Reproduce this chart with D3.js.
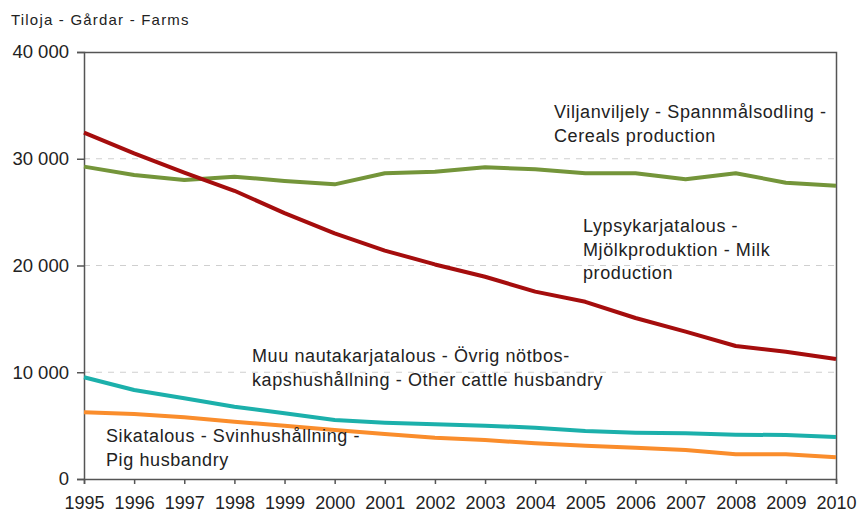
<!DOCTYPE html>
<html>
  <head>
    <meta charset="utf-8">
    <script src="https://cdnjs.cloudflare.com/ajax/libs/d3/7.8.5/d3.min.js"></script>
    <style>
      body { margin: 0; background: #fff; }
      text { font-family: Arial, 'Liberation Sans', sans-serif; fill: #222; }
    </style>
  </head>
  <body>
    <svg width="858" height="515"></svg>
    <script>
      // vuodet / x-akselin luokat
      const years = d3.range(1995, 2011)

      // sarjojen arvot (luettu kuvasta)
      const cereals = [29260, 28480, 28000, 28320, 27920, 27600, 28640, 28790, 29200, 29010, 28640, 28640, 28070, 28640, 27760, 27480]
      const milk = [32440, 30500, 28700, 27000, 24900, 23000, 21400, 20100, 18950, 17550, 16600, 15080, 13800, 12460, 11930, 11240]
      const cattle = [9530, 8340, 7560, 6770, 6150, 5530, 5280, 5120, 4990, 4810, 4500, 4340, 4280, 4150, 4120, 3930]
      const pig = [6250, 6090, 5780, 5370, 4990, 4590, 4220, 3870, 3650, 3340, 3120, 2930, 2720, 2310, 2310, 2030]

      const yTicks = [0, 10000, 20000, 30000, 40000]
      const title = 'Tiloja - Gårdar - Farms'

      const series = [
        { name: 'cereals', values: cereals, color: '#74953a' },
        { name: 'milk', values: milk, color: '#a50d0d' },
        { name: 'cattle', values: cattle, color: '#1cb0ab' },
        { name: 'pig', values: pig, color: '#fa8d2c' }
      ]

      // tekstit: [rivit, x, y]
      const labels = [
        { lines: ['Viljanviljely - Spannmålsodling -', 'Cereals production'], x: 554, y: 118 },
        { lines: ['Lypsykarjatalous -', 'Mjölkproduktion - Milk', 'production'], x: 583, y: 232 },
        { lines: ['Muu nautakarjatalous - Övrig nötbos-', 'kapshushållning - Other cattle husbandry'], x: 252, y: 362 },
        { lines: ['Sikatalous - Svinhushållning -', 'Pig husbandry'], x: 106, y: 442 }
      ]

      const svg = d3.select('svg')
      const margin = { top: 52, right: 22, bottom: 36, left: 84 }
      const width = +svg.attr('width') - margin.left - margin.right
      const height = +svg.attr('height') - margin.top - margin.bottom

      const x = d3.scaleLinear().domain([1995, 2010]).range([0, width])
      const y = d3.scaleLinear().domain([0, 40000]).range([height, 0])

      const g = svg.append('g').attr('transform', `translate(${margin.left},${margin.top})`)

      // katkoviivat
      g.append('g')
        .selectAll('line')
        .data(yTicks.filter((d) => d > 0 && d < 40000))
        .enter()
        .append('line')
        .attr('x1', 0)
        .attr('x2', width)
        .attr('y1', (d) => y(d))
        .attr('y2', (d) => y(d))
        .attr('stroke', '#cfcfcf')
        .attr('stroke-dasharray', '6,6')

      // kehys ylhäällä ja oikealla
      g.append('path')
        .attr('d', `M0,0.5H${width + 0.5}V${height}`)
        .attr('fill', 'none')
        .attr('stroke', '#555')
        .attr('stroke-width', 1.5)

      const fmt = (d) => d3.format(',')(d).replace(/,/g, ' ')

      const yAxis = g.append('g')
        .call(d3.axisLeft(y).tickValues(yTicks).tickFormat(fmt).tickSize(7).tickPadding(8))
      yAxis.selectAll('text').style('font-size', '18.5px').attr('fill', '#222')

      const xAxis = g.append('g')
        .attr('transform', `translate(0,${height})`)
        .call(d3.axisBottom(x).tickValues(years).tickFormat(d3.format('d')).tickSize(5).tickPadding(12))
      xAxis.selectAll('text').style('font-size', '18px').attr('fill', '#222')

      svg.selectAll('.domain, .tick line').attr('stroke', '#555').attr('stroke-width', 1.5)

      const line = d3.line()
        .x((d, i) => x(years[i]))
        .y((d) => y(d))

      g.append('g')
        .selectAll('path')
        .data(series)
        .enter()
        .append('path')
        .attr('d', (d) => line(d.values))
        .attr('fill', 'none')
        .attr('stroke', (d) => d.color)
        .attr('stroke-width', 4)
        .attr('stroke-linejoin', 'round')

      svg.append('text')
        .attr('x', 11)
        .attr('y', 25)
        .style('font-size', '15px')
        .style('letter-spacing', '1.2px')
        .text(title)

      const lab = svg.append('g')
        .selectAll('text')
        .data(labels)
        .enter()
        .append('text')
        .attr('x', (d) => d.x)
        .attr('y', (d) => d.y)
        .style('font-size', '18px')
        .style('letter-spacing', '0.6px')

      lab.selectAll('tspan')
        .data((d) => d.lines.map((l) => ({ l, x: d.x })))
        .enter()
        .append('tspan')
        .attr('x', (d) => d.x)
        .attr('dy', (d, i) => (i === 0 ? 0 : 23.5))
        .text((d) => d.l)
    </script>
  </body>
</html>
